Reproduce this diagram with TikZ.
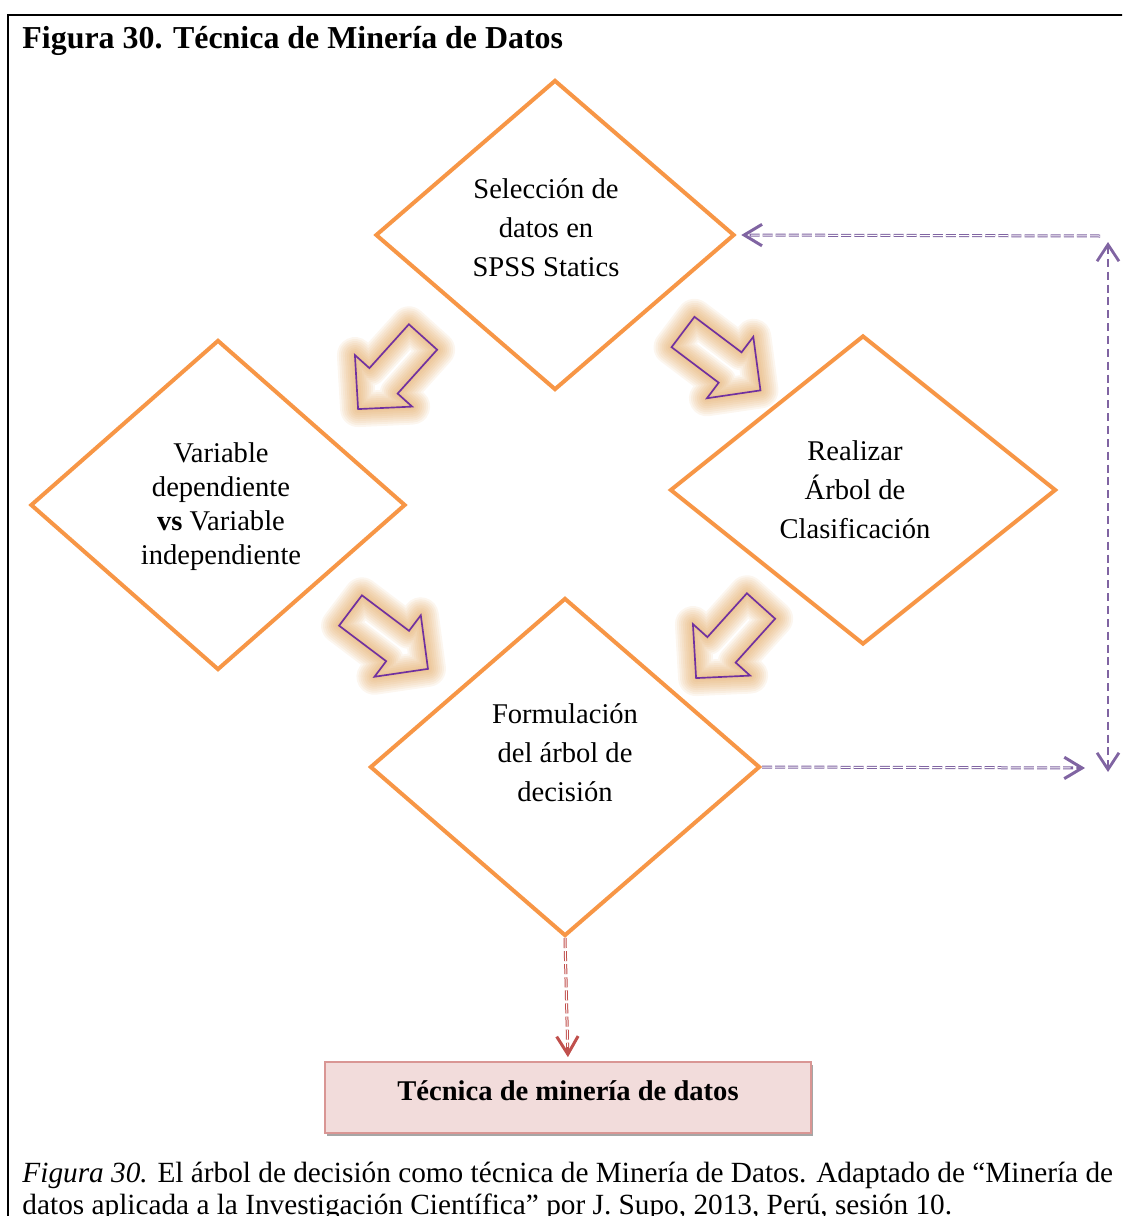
\documentclass[tikz,border=0pt]{standalone}
\usepackage{fontspec}
\setmainfont{Liberation Serif}
\usetikzlibrary{shapes.geometric,arrows.meta,shadows}

\definecolor{naranja}{HTML}{F79646}
\definecolor{morado}{HTML}{8064A2}
\definecolor{violeta}{HTML}{7030A0}
\definecolor{rojo}{HTML}{C0504D}
\definecolor{rosa}{HTML}{F2DCDB}
\definecolor{rosaborde}{HTML}{D99694}
\definecolor{brillo}{RGB}{222,155,75}

\newcommand{\px}{0.42pt}
\newcommand{\contornoflecha}{(0,-19) -- (59,-19) -- (59,-38.5) -- (97,0) -- (59,38.5) -- (59,19) -- (0,19) -- cycle}

\begin{document}
\begin{tikzpicture}[
  x = \px, y = -\px,
  rombo/.style = {diamond, draw = naranja, line width = 4*\px, inner sep = 0pt},
  texto/.style = {align = center, inner sep = 0pt, font = \fontsize{12}{16.4}\selectfont},
  caja/.style = {rectangle, draw = rosaborde, fill = rosa, line width = 1.5*\px,
    minimum width = 486*\px, inner ysep = 0pt, text height = 16pt, text depth = 13.9pt,
    font = \bfseries\fontsize{12}{14}\selectfont,
    drop shadow = {shadow xshift = 1pt, shadow yshift = -1.4pt, opacity = 0.35, fill = black}},
  discont/.style = {draw = morado, line width = 3*\px, dash pattern = on 4.2pt off 1.3pt,
    -{Straight Barb[length = 7.5pt, width = 9pt]},
    postaction = {draw = white, line width = 1*\px, arrows = -, shorten > = 6pt}},
  vertical/.style = {draw = morado, line width = 2.8*\px, dash pattern = on 3.4pt off 2pt,
    {Straight Barb[length = 7pt, width = 9.2pt]}-{Straight Barb[length = 7pt, width = 9.2pt]}},
  flecha/.pic = {
    \foreach \w in {4,8,...,36}
      \draw[draw = brillo, opacity = 0.09, line width = \w*\px, line join = round] \contornoflecha;
    \draw[draw = violeta, line width = 0.7pt, line join = miter] \contornoflecha;
  }
  ]
  \useasboundingbox (0,0) rectangle (1122,1216);
  \clip (0,0) rectangle (1122,1216);
  \draw[line width = 2*\px] (1140,15) -| (8,1240);

  \node[anchor = base west, inner sep = 0pt, font = \bfseries\fontsize{13.4}{16}\selectfont] (titulo)
    at (22,48) {Figura 30. Técnica de Minería de Datos};

  \node[rombo, minimum width = 359*\px, minimum height = 310*\px] (sel) at (555,235) {};
  \node[rombo, minimum width = 375*\px, minimum height = 330*\px] (var) at (218,505) {};
  \node[rombo, minimum width = 386*\px, minimum height = 309*\px] (arb) at (863,490) {};
  \node[rombo, minimum width = 390*\px, minimum height = 338*\px] (form) at (565,767) {};

  \node[texto] (sel-t) at (546,228) {Selección de\\datos en\\SPSS Statics};
  \node[texto, font = \fontsize{12}{14.3}\selectfont] (var-t) at (221,507)
    {Variable\\dependiente\\\textbf{vs} Variable\\independiente};
  \node[texto] (arb-t) at (855,490) {Realizar\\Árbol de\\Clasificación};
  \node[texto] (form-t) at (565,753) {Formulación\\del árbol de\\decisión};

  \pic (f1) [rotate = 228] at (423,337) {flecha};
  \pic (f2) [rotate = -37] at (683,332) {flecha};
  \pic (f3) [rotate = -37] at (350.5,610.5) {flecha};
  \pic (f4) [rotate = 228] at (761,606) {flecha};

  \node[caja] (tec) at (568,1097.5) {Técnica de minería de datos};

  \coordinate (ret) at (1100,236);
  \coordinate (sal) at (1085,768);
  \coordinate (arr) at (1108,242);
  \coordinate (abj) at (1108,772);

  \draw[discont, shorten > = 2pt] (ret) -- (sel.east);
  \draw[discont] (form.east) -- (sal);
  \draw[vertical] (arr) -- (abj);
  \draw[discont, draw = rojo, shorten > = 1.7pt] (form.south) -- (tec.north);

  \node[anchor = base west, align = left, inner sep = 0pt, font = \fontsize{12.3}{13.4}\selectfont] (nota)
    at (22,1214) {\textit{Figura 30.} El árbol de decisión como técnica de Minería de Datos. Adaptado de “Minería de\\
    datos aplicada a la Investigación Científica” por J. Supo, 2013, Perú, sesión 10.};
\end{tikzpicture}
\end{document}
